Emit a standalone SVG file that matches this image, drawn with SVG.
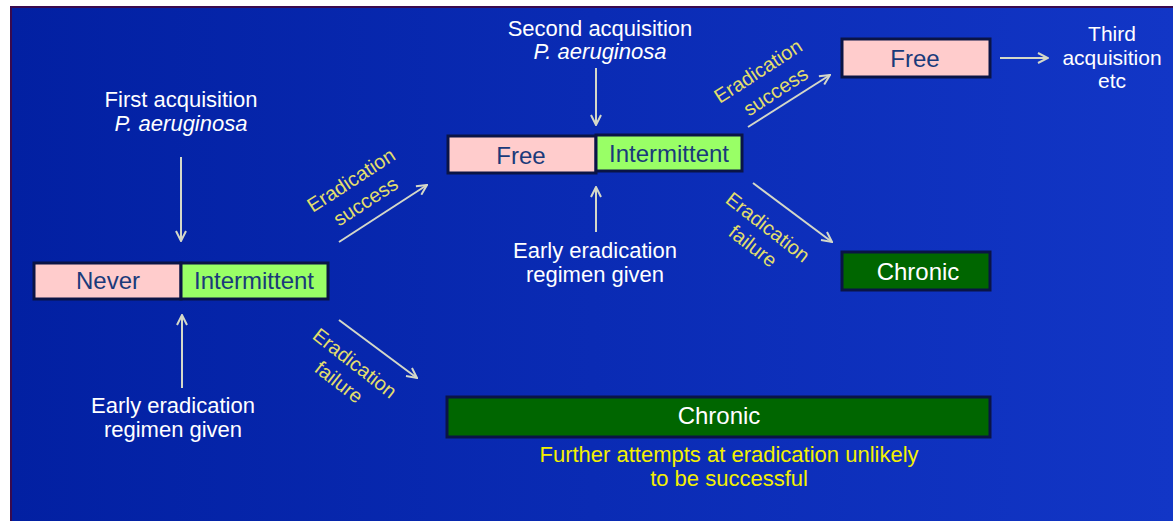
<svg xmlns="http://www.w3.org/2000/svg" width="1173" height="521" viewBox="0 0 1173 521">
<defs>
<linearGradient id="bg" x1="0" y1="0" x2="1" y2="0">
<stop offset="0" stop-color="#0220a2"/>
<stop offset="1" stop-color="#1236c6"/>
</linearGradient>
<marker id="ah" viewBox="0 0 12 12" refX="11" refY="6" markerWidth="12" markerHeight="12" markerUnits="userSpaceOnUse" orient="auto">
<path d="M1,1 L11,6 L1,11" fill="none" stroke="#d4d8c8" stroke-width="2"/>
</marker>
</defs>
<style>
.t{font-family:"Liberation Sans",Arial,sans-serif;font-size:22px;fill:#ffffff;text-anchor:middle}
.s{font-size:21px}
.i{font-style:italic}
.n{font-family:"Liberation Sans",Arial,sans-serif;font-size:24px;fill:#1a3a7a;text-anchor:middle}
.w{fill:#ffffff}
.y{font-family:"Liberation Sans",Arial,sans-serif;font-size:20px;fill:#e2de6c;text-anchor:middle}
.yb{font-family:"Liberation Sans",Arial,sans-serif;font-size:22px;fill:#f4f000;text-anchor:middle}
.box{stroke:#0a1446;stroke-width:3}
.pink{fill:#ffcccc}
.green{fill:#99ff66}
.dg{fill:#006600}
.c{fill:none;stroke:#d4d8c8;stroke-width:2;marker-end:url(#ah)}
</style>
<rect x="0" y="0" width="1173" height="521" fill="#ffffff"/>
<rect x="10" y="6" width="1163" height="515" fill="url(#bg)"/>
<path d="M11,521 L11,7 L1173,7" fill="none" stroke="#3a0a4e" stroke-width="2"/>

<g id="connectors">
<line class="c" x1="181" y1="157" x2="181" y2="241"/>
<line class="c" x1="182" y1="388" x2="182" y2="315"/>
<line class="c" x1="596" y1="68" x2="596" y2="125"/>
<line class="c" x1="596" y1="232" x2="596" y2="187"/>
<line class="c" x1="339" y1="242" x2="427" y2="185"/>
<line class="c" x1="339" y1="320" x2="417" y2="378"/>
<line class="c" x1="748" y1="127" x2="830" y2="75"/>
<line class="c" x1="753" y1="183" x2="832" y2="242"/>
<line class="c" x1="1000" y1="58" x2="1048" y2="58"/>
</g>

<g id="labels">
<text class="t" x="181" y="107">First acquisition</text>
<text class="t i" x="181" y="131">P. aeruginosa</text>
<text class="t" x="600" y="36">Second acquisition</text>
<text class="t i" x="600" y="59">P. aeruginosa</text>
<text class="t" x="173" y="413">Early eradication</text>
<text class="t" x="173" y="437">regimen given</text>
<text class="t" x="595" y="258">Early eradication</text>
<text class="t" x="595" y="282">regimen given</text>
<text class="t s" x="1112" y="41">Third</text>
<text class="t s" x="1112" y="65">acquisition</text>
<text class="t s" x="1112" y="88">etc</text>
<text class="yb" x="729" y="462">Further attempts at eradication unlikely</text>
<text class="yb" x="729" y="486">to be successful</text>
<text class="y" transform="translate(351,180) rotate(-33)" y="7">Eradication</text>
<text class="y" transform="translate(366,202) rotate(-33)" y="6">success</text>
<text class="y" transform="translate(355,363) rotate(38)" y="7">Eradication</text>
<text class="y" transform="translate(339,382) rotate(38)" y="7">failure</text>
<text class="y" transform="translate(758,71) rotate(-33)" y="7">Eradication</text>
<text class="y" transform="translate(776,92) rotate(-33)" y="6">success</text>
<text class="y" transform="translate(768,227) rotate(38)" y="7">Eradication</text>
<text class="y" transform="translate(753,246) rotate(38)" y="7">failure</text>
</g>

<g id="never">
<rect class="box pink" x="34" y="263" width="147" height="36"/>
<text class="n" x="108" y="289">Never</text>
</g>
<g id="intermittent1">
<rect class="box green" x="181" y="263" width="147" height="36"/>
<text class="n" x="254" y="289">Intermittent</text>
</g>
<g id="free1">
<rect class="box pink" x="448" y="136" width="148" height="37"/>
<text class="n" x="521" y="164">Free</text>
</g>
<g id="intermittent2">
<rect class="box green" x="596" y="135" width="146" height="36"/>
<text class="n" x="669" y="162">Intermittent</text>
</g>
<g id="free2">
<rect class="box pink" x="842" y="39" width="148" height="38"/>
<text class="n" x="915" y="67">Free</text>
</g>
<g id="chronic1">
<rect class="box dg" x="842" y="252" width="148" height="38"/>
<text class="n w" x="918" y="280">Chronic</text>
</g>
<g id="chronic2">
<rect class="box dg" x="447" y="397" width="543" height="40"/>
<text class="n w" x="719" y="424">Chronic</text>
</g>
</svg>
